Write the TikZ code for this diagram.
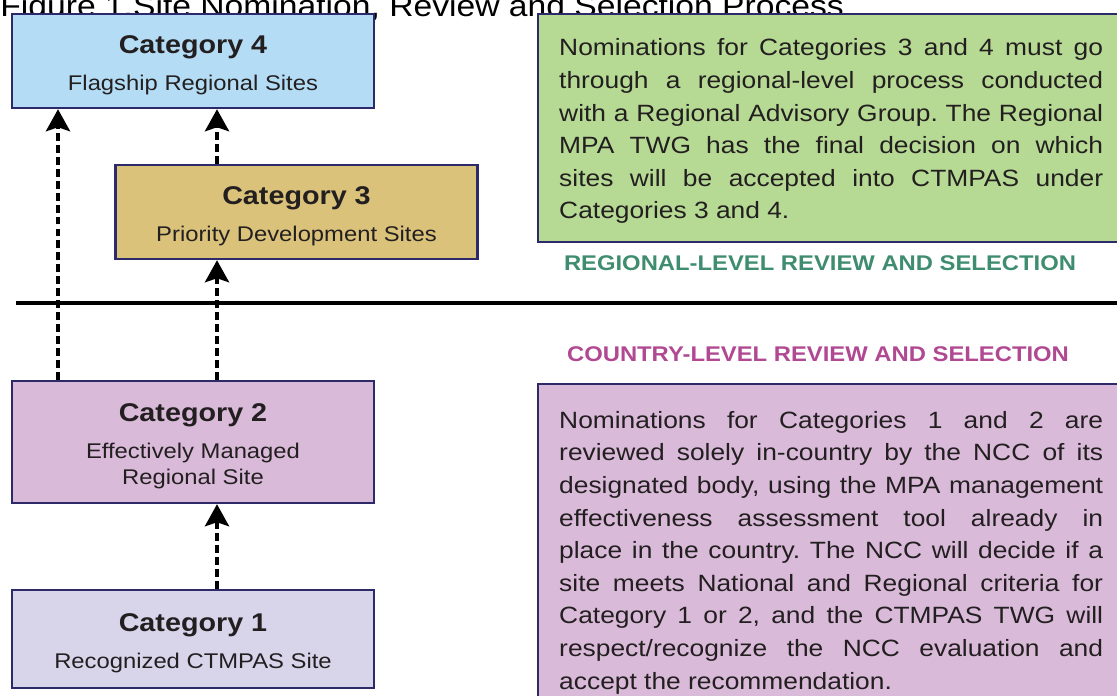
\documentclass[tikz,border=0pt]{standalone}
\usepackage{fontspec}
\setmainfont[FakeStretch=1.12]{Liberation Sans}
\usetikzlibrary{arrows.meta}
\definecolor{boxline}{HTML}{2D2A6A}
\definecolor{catfour}{HTML}{B4DDF5}
\definecolor{catthree}{HTML}{DAC27A}
\definecolor{cattwo}{HTML}{D9BAD9}
\definecolor{catone}{HTML}{D8D5EB}
\definecolor{regfill}{HTML}{B6DA94}
\definecolor{regtext}{HTML}{3F8D70}
\definecolor{ctrytext}{HTML}{B14892}
\definecolor{ink}{HTML}{231F20}
\newcommand\figtitle{\fontsize{17.1}{20}\selectfont}
\newcommand\cathead[1]{{\fontsize{14.6}{17}\selectfont\bfseries\rule{0pt}{15pt}#1}}
\newcommand\catsub{\fontsize{12.1}{14.8}\selectfont}
\newcommand\panelfont{\fontsize{13.4}{18.55}\selectfont\frenchspacing\tolerance=9999\hyphenpenalty=10000\exhyphenpenalty=10000}
\newcommand\levellabel{\fontsize{12.1}{14}\selectfont\bfseries}

\begin{document}
\begin{tikzpicture}[x=0.02cm,y=-0.02cm,
  catbox/.style={draw=boxline,line width=1.4pt,minimum width=7.24cm,inner sep=0pt,align=center,text=ink,font=\catsub},
  panel/.style={draw=boxline,line width=1.4pt,anchor=north west,text width=10.88cm,inner xsep=0.42cm,align=justify,text=ink,font=\panelfont},
  uparrow/.style={line width=2.3pt,dash pattern=on 4.5pt off 2.3pt,-{Stealth[length=0.44cm,width=0.48cm,inset=0.08cm]}}]
\useasboundingbox (0,0) rectangle (1117,696);
\clip (0,0) rectangle (1117,696);
\node[anchor=base west,inner sep=0pt,font=\figtitle] (title) at (0,17) {Figure 1.Site Nomination, Review and Selection Process};

\node[catbox,fill=catfour,minimum height=1.88cm] (cat4) at (193,61) {\cathead{Category 4}\\[6pt]Flagship Regional Sites};
\node[catbox,fill=catthree,minimum height=1.88cm] (cat3) at (296.5,212) {\cathead{Category 3}\\[6pt]Priority Development Sites};
\node[catbox,fill=cattwo,minimum height=2.44cm] (cat2) at (193,442) {\cathead{Category 2}\\[6pt]Effectively Managed\\Regional Site};
\node[catbox,fill=catone,minimum height=1.96cm] (cat1) at (193,639) {\cathead{Category 1}\\[6pt]Recognized CTMPAS Site};

\node[panel,fill=regfill,minimum height=4.56cm] (regpanel) at (537,13) {\rule{0pt}{13.2pt}Nominations for Categories 3 and 4 must go\linebreak through a regional-level process conducted\linebreak with a Regional Advisory Group. The Regional\linebreak MPA TWG has the final decision on which\linebreak sites will be accepted into CTMPAS under\linebreak Categories 3 and 4.};
\node[panel,fill=cattwo,inner ysep=0.54cm] (ctrypanel) at (537,383) {Nominations for Categories 1 and 2 are\linebreak reviewed solely in-country by the NCC of its\linebreak designated body, using the MPA management\linebreak effectiveness assessment tool already in\linebreak place in the country. The NCC will decide if a\linebreak site meets National and Regional criteria for\linebreak Category 1 or 2, and the CTMPAS TWG will\linebreak respect/recognize the NCC evaluation and\linebreak accept the recommendation.};
\node[font=\levellabel,text=regtext] (reglabel) at (820,263) {REGIONAL-LEVEL REVIEW AND SELECTION};
\node[font=\levellabel,text=ctrytext] (ctrylabel) at (818,354) {COUNTRY-LEVEL REVIEW AND SELECTION};

\coordinate (divL) at (16,303);
\coordinate (divR) at (1117,303);
\draw[line width=2.8pt] (divL) -- (divR);
\coordinate (colA) at (58,0);
\coordinate (colB) at (217,0);
\draw[uparrow] (cat2.north -| colA) -- (cat4.south -| colA);
\draw[uparrow] (cat2.north -| colB) -- (cat3.south -| colB);
\draw[uparrow] (cat3.north -| colB) -- (cat4.south -| colB);
\draw[uparrow] (cat1.north -| colB) -- (cat2.south -| colB);
\end{tikzpicture}
\end{document}
